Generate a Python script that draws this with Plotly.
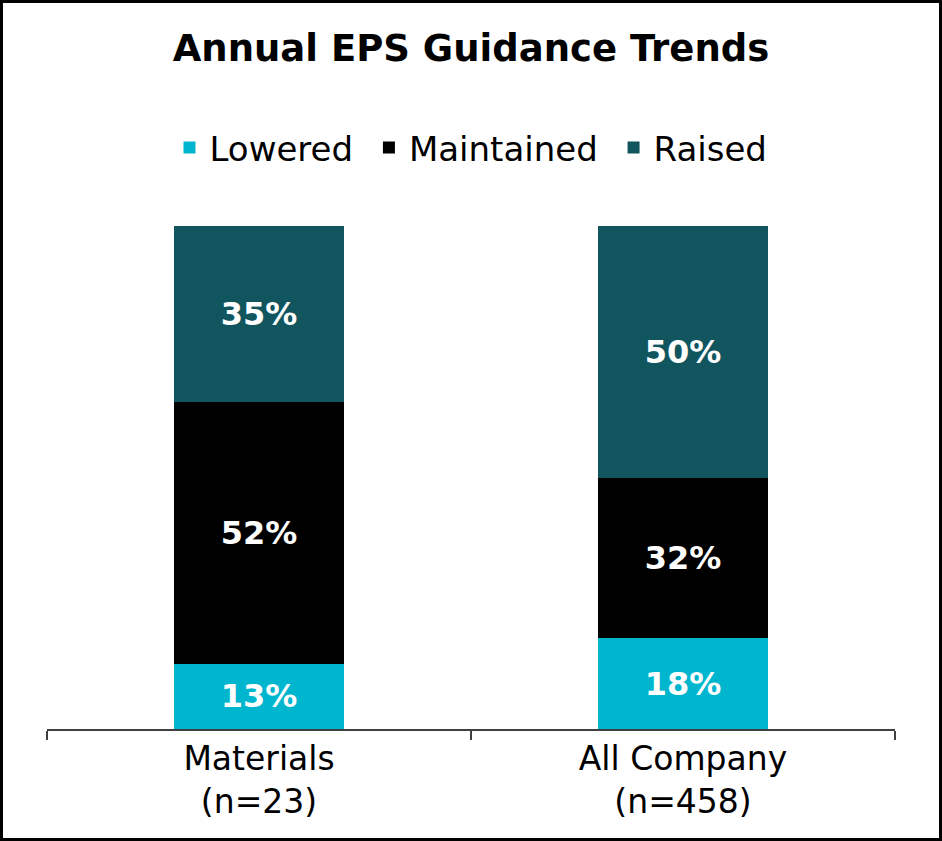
import plotly.graph_objects as go

categories = ["Materials<br>(n=23)", "All Company<br>(n=458)"]
lowered = [0.13, 0.18]
maintained = [0.52, 0.32]
raised = [0.35, 0.50]

series = [
    ("Lowered\u00a0", lowered, "#00B5CE"),
    ("Maintained\u00a0", maintained, "#000000"),
    ("Raised", raised, "#11555F"),
]

FONT = "DejaVu Sans"
W, H = 942, 841
ml, mr, mt, mb = 47, 47, 226, 112
pw, ph = W - ml - mr, H - mt - mb

fig = go.Figure()
for name, vals, color in series:
    fig.add_trace(go.Bar(
        x=categories, y=vals, name=name,
        marker=dict(color=color, line=dict(width=0)),
        texttemplate="%{y:.0%}", textposition="inside",
        insidetextanchor="middle",
        textfont=dict(family=FONT, size=32, color="white", weight="bold"),
        hoverinfo="skip",
    ))

fig.update_layout(
    width=W, height=H,
    margin=dict(l=ml, r=mr, t=mt, b=mb),
    barmode="stack", bargap=0.6,
    plot_bgcolor="white", paper_bgcolor="white",
    font=dict(family=FONT, color="black"),
    title=dict(text="<b>Annual EPS Guidance Trends</b>", x=0.5, xanchor="center",
               y=1 - 48 / H, yanchor="middle",
               font=dict(family=FONT, size=37, color="black")),
    legend=dict(orientation="h", x=0.5, xanchor="center",
                y=1 + (mt - 148) / ph, yanchor="middle",
                font=dict(family=FONT, size=34, color="black"),
                itemwidth=30, traceorder="normal"),
    uniformtext=dict(mode=False),
)
fig.update_xaxes(
    showline=True, linecolor="#404040", linewidth=1.5,
    ticks="outside", tickson="boundaries", ticklen=9, tickcolor="#404040", tickwidth=1.5,
    tickfont=dict(family=FONT, size=33, color="black"),
    range=[-0.5, 1.5], showgrid=False,
)
fig.update_yaxes(range=[0, 1], visible=False, showgrid=False)

fig.add_shape(type="rect", xref="paper", yref="paper",
              x0=-ml / pw + 1.5 / pw, x1=1 + mr / pw - 1.5 / pw,
              y0=-mb / ph + 1.5 / ph, y1=1 + mt / ph - 1.5 / ph,
              line=dict(color="black", width=3), layer="above")

fig.write_html("out.html", config={"displayModeBar": False},
               post_script="document.body.style.margin='0px';")
